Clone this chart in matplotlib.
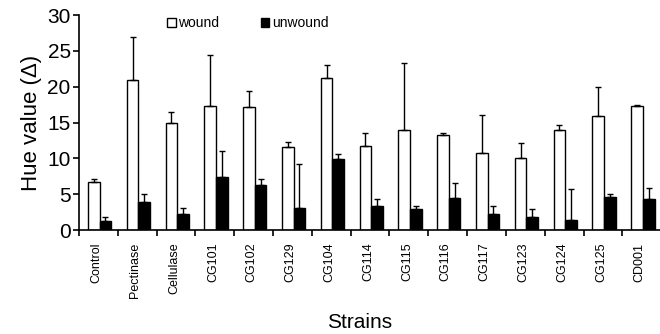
import matplotlib
matplotlib.use("Agg")
import matplotlib.pyplot as plt
import numpy as np

plt.rcParams['font.family'] = ['Liberation Sans', 'DejaVu Sans']

strains = ["Control", "Pectinase", "Cellulase", "CG101", "CG102", "CG129", "CG104",
           "CG114", "CG115", "CG116", "CG117", "CG123", "CG124", "CG125", "CD001"]
wound = [6.7, 20.9, 15.0, 17.35, 17.2, 11.6, 21.2, 11.8, 14.0, 13.2, 10.7, 10.05, 13.9, 15.95, 17.3]
wound_err = [0.46, 6.0, 1.5, 7.05, 2.2, 0.7, 1.8, 1.8, 9.3, 0.4, 5.4, 2.05, 0.8, 4.05, 0.1]
unwound = [1.3, 3.9, 2.2, 7.45, 6.3, 3.1, 9.95, 3.4, 3.0, 4.55, 2.3, 1.8, 1.4, 4.65, 4.3]
unwound_err = [0.56, 1.1, 0.9, 3.65, 0.8, 6.1, 0.65, 1.0, 0.4, 2.05, 1.1, 1.2, 4.3, 0.33, 1.56]

fig = plt.figure(figsize=(6.6, 3.34), dpi=100)
ax = fig.add_axes([0.1197, 0.311, 0.882, 0.644])

x = np.arange(len(strains)) + 0.5
w = 0.3
ax.bar(x - w / 2 + 0.03, wound, w, color='white', edgecolor='black', linewidth=1.0,
       yerr=[np.zeros(len(wound)), wound_err],
       error_kw=dict(ecolor='black', elinewidth=1.0, capsize=2.5, capthick=1.0),
       label='wound', zorder=2)
ax.bar(x + w / 2 + 0.03, unwound, w, color='black', edgecolor='black', linewidth=1.0,
       yerr=[np.zeros(len(unwound)), unwound_err],
       error_kw=dict(ecolor='black', elinewidth=1.0, capsize=2.5, capthick=1.0),
       label='unwound', zorder=2)

ax.set_xlim(0, len(strains))
ax.set_ylim(0, 30)
ax.set_yticks([0, 5, 10, 15, 20, 25, 30])
ax.tick_params(axis='y', labelsize=15, direction='out', length=4, width=1.2, pad=2)
ax.set_xticks(np.arange(len(strains) + 1))
ax.set_xticklabels([])
ax.tick_params(axis='x', direction='out', length=4, width=1.2)
for xi, s in zip(x, strains):
    ax.text(xi - 0.05, -1.75, s, rotation=90, ha='center', va='top', fontsize=9)

for sp in ['top', 'right']:
    ax.spines[sp].set_visible(False)
ax.spines['left'].set_linewidth(1.2)
ax.spines['bottom'].set_linewidth(1.2)

ax.set_ylabel('Hue value (Δ)', fontsize=16, labelpad=4)
fig.text(0.545, 0.005, 'Strains', ha='center', va='bottom', fontsize=15)

leg = ax.legend(loc='upper left', bbox_to_anchor=(0.135, 1.04), ncol=2, frameon=False,
                fontsize=10, handlelength=0.6, handleheight=0.6, handletextpad=0.2,
                columnspacing=3.0, borderpad=0.2)

fig.savefig('out.png', dpi=100)
